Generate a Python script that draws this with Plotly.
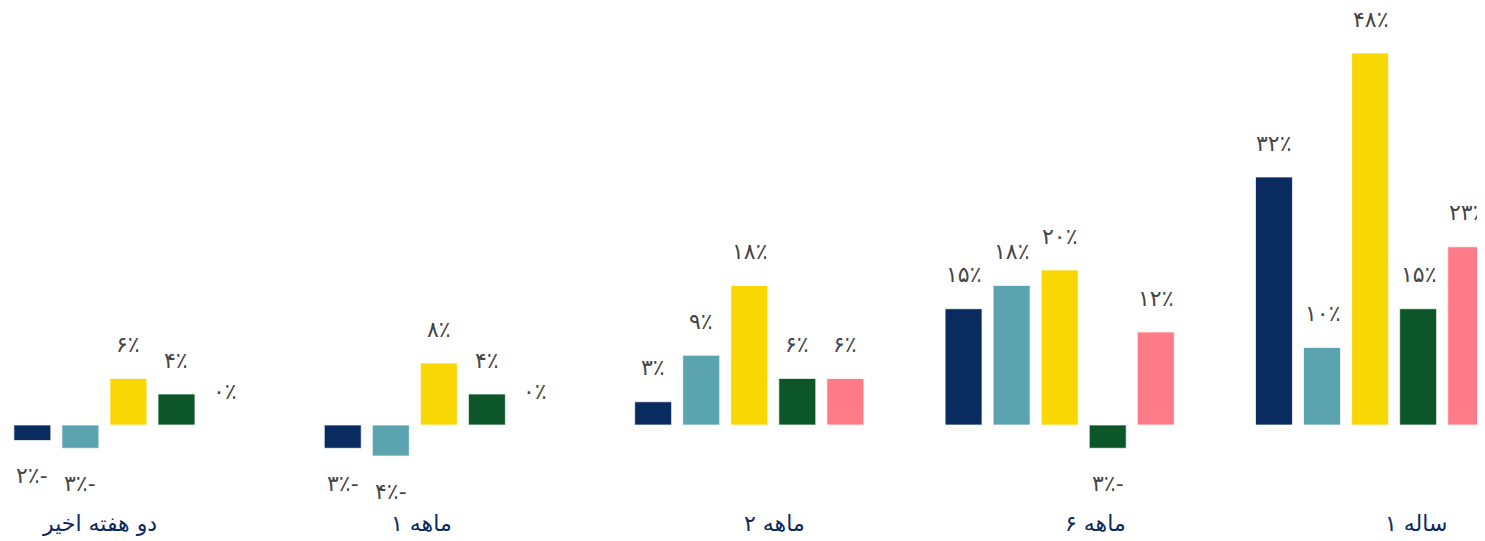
import plotly.graph_objects as go

# Persian (extended Arabic-Indic) digits written with escapes to avoid ambiguity
FA_DIGITS = "\u06f0\u06f1\u06f2\u06f3\u06f4\u06f5\u06f6\u06f7\u06f8\u06f9"
PCT = "\u066a"

categories = [
    "دو هفته اخیر",
    "\u06f1 ماهه",
    "\u06f2 ماهه",
    "\u06f6 ماهه",
    "\u06f1 ساله",
]
series_navy = [-2, -3, 3, 15, 32]
series_teal = [-3, -4, 9, 18, 10]
series_yellow = [6, 8, 18, 20, 48]
series_green = [4, 4, 6, -3, 15]
series_pink = [0, 0, 6, 12, 23]

series = [series_navy, series_teal, series_yellow, series_green, series_pink]
colors = ["#0a2b5f", "#5ba3af", "#f8d704", "#0d5629", "#ff7b88"]

FA = str.maketrans("0123456789", FA_DIGITS)
LRM = "\u200e"


def fa_label(v):
    s = str(abs(v)).translate(FA) + PCT
    return LRM + (s + "-" if v < 0 else s)


n = len(series)
step = 0.1548
width = 0.119
fig = go.Figure()
annotations = []
for j, vals in enumerate(series):
    xs = [i + (j - (n - 1) / 2) * step for i in range(len(categories))]
    fig.add_trace(go.Bar(
        x=xs, y=vals, width=width,
        marker=dict(color=colors[j], line=dict(color="rgba(255,255,255,0.7)", width=1)),
        showlegend=False, hoverinfo="skip",
    ))
    for x, v in zip(xs, vals):
        annotations.append(dict(
            x=x, y=v, xref="x", yref="y", text=fa_label(v), showarrow=False,
            yshift=34 if v >= 0 else -35, yanchor="middle",
            font=dict(family="DejaVu Sans", size=22, color="#454545"),
        ))

label_shift = [-29, -17, 25, 36, 46]
for i, c in enumerate(categories):
    annotations.append(dict(
        x=i, y=0.048, xref="x", yref="paper", text=c, showarrow=False,
        xshift=label_shift[i], yanchor="middle",
        font=dict(family="DejaVu Sans", size=22, color="#0a2b5f"),
    ))

fig.update_layout(
    width=1485, height=541,
    margin=dict(l=0, r=0, t=0, b=0),
    paper_bgcolor="white", plot_bgcolor="white",
    barmode="overlay",
    xaxis=dict(range=[-0.388, 4.396], visible=False),
    yaxis=dict(range=[-16.0, 53.81], visible=False),
    annotations=annotations,
)

fig.write_html("out.html")
